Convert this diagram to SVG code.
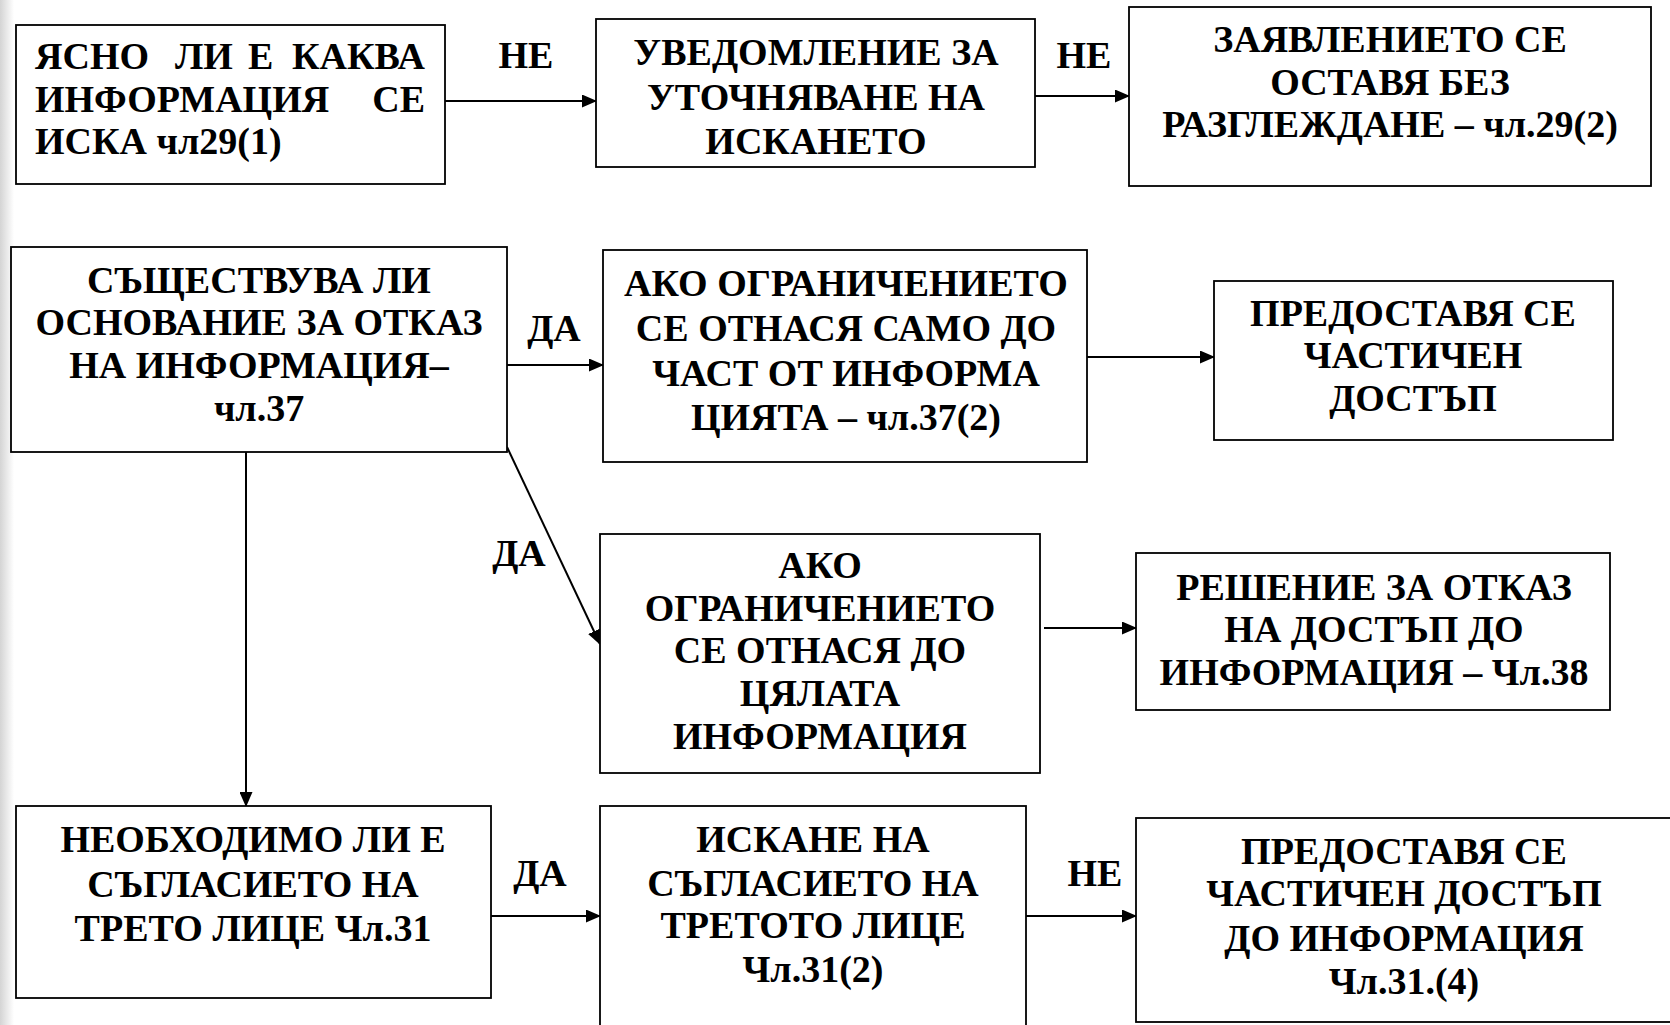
<svg xmlns="http://www.w3.org/2000/svg" width="1670" height="1025" viewBox="0 0 1670 1025">
<style>
.box{fill:#fff;stroke:#000;stroke-width:1.8}
.t{font-family:"Liberation Serif","Times New Roman",serif;font-weight:bold;font-size:38px;fill:#000;text-anchor:middle}
.s{text-anchor:start}
.e{text-anchor:end}
.c{stroke:#000;stroke-width:2;fill:none;marker-end:url(#ah)}
</style>
<defs>
<linearGradient id="edge" x1="0" y1="0" x2="1" y2="0">
<stop offset="0" stop-color="#d4d4d4"/>
<stop offset="1" stop-color="#ffffff"/>
</linearGradient>
<marker id="ah" markerUnits="userSpaceOnUse" markerWidth="15" markerHeight="13" refX="14" refY="6.5" orient="auto">
<path d="M0,0 L15,6.5 L0,13 Z" fill="#000"/>
</marker>
</defs>
<rect x="0" y="0" width="1670" height="1025" fill="#fff"/>
<rect x="0" y="0" width="14" height="1025" fill="url(#edge)"/>

<g id="connectors">
<line class="c" x1="445" y1="101" x2="596" y2="101"/>
<line class="c" x1="1035" y1="96" x2="1129" y2="96"/>
<line class="c" x1="507" y1="365" x2="603" y2="365"/>
<line class="c" x1="1087" y1="357" x2="1214" y2="357"/>
<line class="c" x1="507" y1="447" x2="600" y2="644"/>
<line class="c" x1="1044" y1="628" x2="1136" y2="628"/>
<line class="c" x1="246" y1="452" x2="246" y2="806"/>
<line class="c" x1="491" y1="916" x2="600" y2="916"/>
<line class="c" x1="1026" y1="916" x2="1136" y2="916"/>
<text class="t" x="526" y="68">НЕ</text>
<text class="t" x="1084" y="68">НЕ</text>
<text class="t" x="554" y="341">ДА</text>
<text class="t" x="519" y="566">ДА</text>
<text class="t" x="540" y="886">ДА</text>
<text class="t" x="1095" y="886">НЕ</text>
</g>

<g id="box-a">
<rect class="box" x="16" y="25" width="429" height="159"/>
<text class="t s" x="35" y="69">ЯСНО</text>
<text class="t s" x="175" y="69">ЛИ</text>
<text class="t s" x="248" y="69">Е</text>
<text class="t e" x="425" y="69">КАКВА</text>
<text class="t s" x="35" y="112">ИНФОРМАЦИЯ</text>
<text class="t e" x="425" y="112">СЕ</text>
<text class="t s" x="35" y="154">ИСКА чл29(1)</text>
</g>

<g id="box-b">
<rect class="box" x="596" y="19" width="439" height="148"/>
<text class="t" x="816" y="65">УВЕДОМЛЕНИЕ ЗА</text>
<text class="t" x="816" y="110">УТОЧНЯВАНЕ НА</text>
<text class="t" x="816" y="154">ИСКАНЕТО</text>
</g>

<g id="box-c">
<rect class="box" x="1129" y="7" width="522" height="179"/>
<text class="t" x="1390" y="52">ЗАЯВЛЕНИЕТО СЕ</text>
<text class="t" x="1390" y="95">ОСТАВЯ БЕЗ</text>
<text class="t" x="1390" y="137">РАЗГЛЕЖДАНЕ – чл.29(2)</text>
</g>

<g id="box-d">
<rect class="box" x="11" y="247" width="496" height="205"/>
<text class="t" x="259" y="293">СЪЩЕСТВУВА ЛИ</text>
<text class="t" x="259" y="335">ОСНОВАНИЕ ЗА ОТКАЗ</text>
<text class="t" x="259" y="378">НА ИНФОРМАЦИЯ–</text>
<text class="t" x="259" y="421">чл.37</text>
</g>

<g id="box-e">
<rect class="box" x="603" y="250" width="484" height="212"/>
<text class="t" x="846" y="296">АКО ОГРАНИЧЕНИЕТО</text>
<text class="t" x="846" y="341">СЕ ОТНАСЯ САМО ДО</text>
<text class="t" x="846" y="386">ЧАСТ ОТ ИНФОРМА</text>
<text class="t" x="846" y="430">ЦИЯТА – чл.37(2)</text>
</g>

<g id="box-f">
<rect class="box" x="1214" y="281" width="399" height="159"/>
<text class="t" x="1413" y="326">ПРЕДОСТАВЯ СЕ</text>
<text class="t" x="1413" y="368">ЧАСТИЧЕН</text>
<text class="t" x="1413" y="411">ДОСТЪП</text>
</g>

<g id="box-g">
<rect class="box" x="600" y="534" width="440" height="239"/>
<text class="t" x="820" y="578">АКО</text>
<text class="t" x="820" y="621">ОГРАНИЧЕНИЕТО</text>
<text class="t" x="820" y="663">СЕ ОТНАСЯ ДО</text>
<text class="t" x="820" y="706">ЦЯЛАТА</text>
<text class="t" x="820" y="749">ИНФОРМАЦИЯ</text>
</g>

<g id="box-h">
<rect class="box" x="1136" y="553" width="474" height="157"/>
<text class="t" x="1374" y="600">РЕШЕНИЕ ЗА ОТКАЗ</text>
<text class="t" x="1374" y="642">НА ДОСТЪП ДО</text>
<text class="t" x="1374" y="685">ИНФОРМАЦИЯ – Чл.38</text>
</g>

<g id="box-i">
<rect class="box" x="16" y="806" width="475" height="192"/>
<text class="t" x="253" y="852">НЕОБХОДИМО ЛИ Е</text>
<text class="t" x="253" y="897">СЪГЛАСИЕТО НА</text>
<text class="t" x="253" y="941">ТРЕТО ЛИЦЕ Чл.31</text>
</g>

<g id="box-j">
<rect class="box" x="600" y="806" width="426" height="240"/>
<text class="t" x="813" y="852">ИСКАНЕ НА</text>
<text class="t" x="813" y="896">СЪГЛАСИЕТО НА</text>
<text class="t" x="813" y="938">ТРЕТОТО ЛИЦЕ</text>
<text class="t" x="813" y="982">Чл.31(2)</text>
</g>

<g id="box-k">
<rect class="box" x="1136" y="818" width="560" height="204"/>
<text class="t" x="1404" y="864">ПРЕДОСТАВЯ СЕ</text>
<text class="t" x="1404" y="906">ЧАСТИЧЕН ДОСТЪП</text>
<text class="t" x="1404" y="951">ДО ИНФОРМАЦИЯ</text>
<text class="t" x="1404" y="994">Чл.31.(4)</text>
</g>
</svg>
